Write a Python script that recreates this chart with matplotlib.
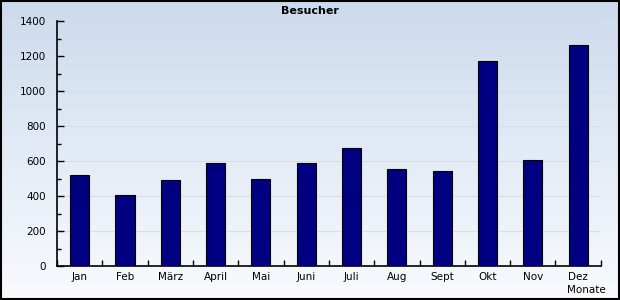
import numpy as np
import matplotlib
matplotlib.use('Agg')
import matplotlib.pyplot as plt
from matplotlib.ticker import MultipleLocator, FixedLocator, NullFormatter

months = ['Jan', 'Feb', 'März', 'April', 'Mai', 'Juni', 'Juli', 'Aug', 'Sept', 'Okt', 'Nov', 'Dez']
visitors = [520, 406, 491, 589, 497, 589, 674, 554, 543, 1171, 606, 1263]

fig = plt.figure(figsize=(6.2, 3.0), dpi=100)

# gradient background over the whole figure
bg = fig.add_axes([0, 0, 1, 1], zorder=-1)
grad = np.linspace(0, 1, 256).reshape(-1, 1)
top = np.array([0.80, 0.855, 0.93])
bottom = np.array([0.975, 0.985, 0.995])
img = top + (bottom - top) * grad[..., None]
bg.imshow(img, aspect='auto', extent=[0, 1, 0, 1])
bg.set_xlim(0, 1)
bg.set_ylim(0, 1)
bg.axis('off')
bg.add_patch(plt.Rectangle((0.0015, 0.003), 0.997, 0.994, fill=False,
                           edgecolor='black', linewidth=1.5, transform=bg.transAxes))

ax = fig.add_axes([0.092, 0.113, 0.877, 0.817])
ax.patch.set_alpha(0)
x = np.arange(len(months))
ax.bar(x, visitors, width=0.42, color='#000080', edgecolor='black', linewidth=0.8, zorder=3)

ax.set_xlim(-0.5, len(months) - 0.5)
ax.set_ylim(0, 1400)
ax.yaxis.set_major_locator(MultipleLocator(200))
ax.yaxis.set_minor_locator(MultipleLocator(100))
ax.set_xticks(x)
ax.set_xticklabels(months)
ax.xaxis.set_minor_locator(FixedLocator(np.arange(-0.5, len(months), 1)))
ax.tick_params(axis='x', which='major', length=0, pad=4, labelsize=7.5)
ax.tick_params(axis='x', which='minor', length=4, direction='in', width=1)
ax.tick_params(axis='y', which='major', length=5, direction='in', width=1, labelsize=7.5, pad=8)
ax.tick_params(axis='y', which='minor', length=3, direction='in', width=1)
ax.grid(axis='y', color='#d8dde6', linewidth=0.8, zorder=0)

for s in ['top', 'right']:
    ax.spines[s].set_visible(False)
ax.spines['left'].set_linewidth(1.2)
ax.spines['bottom'].set_linewidth(1.2)

fig.text(0.5, 0.963, 'Besucher', ha='center', va='center', fontsize=8, fontweight='bold')
fig.text(0.945, 0.033, 'Monate', ha='center', va='center', fontsize=7.5)

fig.savefig('out.png', dpi=100)
